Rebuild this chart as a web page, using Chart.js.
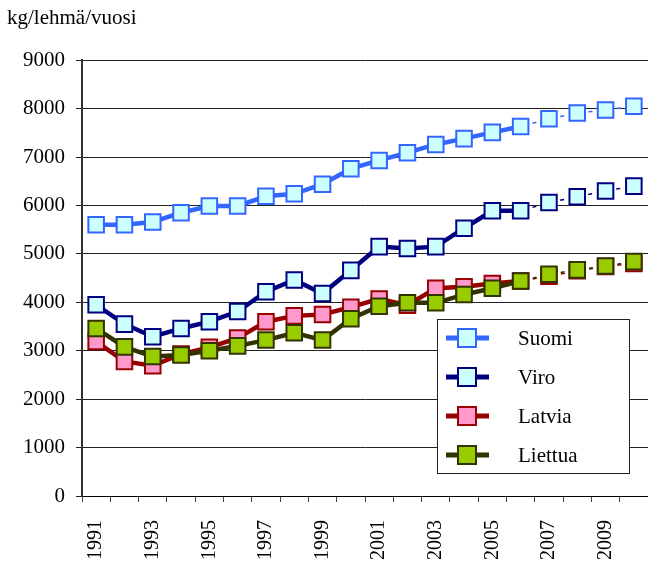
<!DOCTYPE html>
<html>
<head>
<meta charset="utf-8">
<script src="https://cdn.jsdelivr.net/npm/chart.js@4.4.0/dist/chart.umd.min.js"></script>
<style>
  body { margin: 0; background: #fff; }
  #myChart { display: block; }
</style>
</head>
<body>
<canvas id="myChart" width="648" height="561"></canvas>
<script>
const vuodet = ['1991', '1992', '1993', '1994', '1995', '1996', '1997', '1998', '1999', '2000',
                '2001', '2002', '2003', '2004', '2005', '2006', '2007', '2008', '2009', '2010'];

const suomi   = [5600, 5600, 5660, 5850, 5990, 5990, 6190, 6240, 6440, 6760, 6930, 7090, 7260, 7380, 7510, 7630, 7790, 7910, 7970, 8050];
const viro    = [3950, 3550, 3290, 3460, 3600, 3810, 4220, 4460, 4180, 4660, 5150, 5110, 5150, 5530, 5890, 5890, 6060, 6180, 6300, 6400];
const latvia  = [3190, 2780, 2690, 2930, 3070, 3260, 3600, 3720, 3750, 3900, 4070, 3940, 4290, 4320, 4390, 4440, 4540, 4650, 4740, 4800];
const liettua = [3460, 3080, 2880, 2910, 3000, 3100, 3220, 3370, 3220, 3660, 3920, 3990, 3990, 4160, 4290, 4440, 4580, 4670, 4750, 4840];

const yAsteikko = [0, 1000, 2000, 3000, 4000, 5000, 6000, 7000, 8000, 9000];

// ennusteet (katkoviiva) alkavat vuoden 2006 jälkeen
const ennusteAlku = vuodet.indexOf('2006');

const fontti = '"Liberation Serif", "Times New Roman", serif';

function sarja(nimi, data, viiva, tayte, jarjestys) {
  return {
    label: nimi,
    data: data,
    borderColor: viiva,
    backgroundColor: tayte,
    borderWidth: 4.5,
    pointStyle: 'rect',
    pointRadius: 11,
    pointHoverRadius: 11,
    pointBorderWidth: 2,
    pointBackgroundColor: tayte,
    pointBorderColor: viiva,
    order: jarjestys,
    segment: {
      borderWidth: ctx => ctx.p0DataIndex >= ennusteAlku ? 1.5 : undefined,
      borderDash: ctx => ctx.p0DataIndex >= ennusteAlku ? [4, 24.6] : undefined,
      borderDashOffset: ctx => ctx.p0DataIndex >= ennusteAlku ? 16.3 : undefined
    }
  };
}

// selite piirretään kuvaajan sisään, oikeaan alakulmaan
const selite = {
  id: 'selite',
  afterDraw(chart) {
    const ctx = chart.ctx;
    const ala = chart.chartArea;
    const x = ala.right - 211;
    const y = ala.bottom - 177;
    const w = 192, h = 154;
    ctx.save();
    ctx.fillStyle = '#fff';
    ctx.fillRect(x, y, w, h);
    ctx.strokeStyle = '#222';
    ctx.lineWidth = 1;
    ctx.strokeRect(x + 0.5, y + 0.5, w, h);
    ctx.font = '21px ' + fontti;
    ctx.textBaseline = 'middle';
    chart.data.datasets.forEach((ds, i) => {
      const cy = y + 19 + i * 39;
      ctx.strokeStyle = ds.borderColor;
      ctx.lineWidth = 5;
      ctx.beginPath();
      ctx.moveTo(x + 9, cy);
      ctx.lineTo(x + 52, cy);
      ctx.stroke();
      ctx.fillStyle = ds.pointBackgroundColor;
      ctx.fillRect(x + 21, cy - 9, 18, 18);
      ctx.lineWidth = 2;
      ctx.strokeRect(x + 21, cy - 9, 18, 18);
      ctx.fillStyle = '#000';
      ctx.fillText(ds.label, x + 81, cy + 1);
    });
    ctx.restore();
  }
};

const chart = new Chart(document.getElementById('myChart'), {
  type: 'line',
  data: {
    labels: vuodet,
    datasets: [
      sarja('Suomi', suomi, '#3366FF', '#CCFFFF', 4),
      sarja('Viro', viro, '#000080', '#CCFFFF', 3),
      sarja('Latvia', latvia, '#990000', '#FF99CC', 2),
      sarja('Liettua', liettua, '#333300', '#99CC00', 1)
    ]
  },
  options: {
    responsive: false,
    animation: false,
    layout: { autoPadding: false, padding: { left: 7, right: 0, top: 0, bottom: 2 } },
    plugins: {
      legend: { display: false },
      tooltip: { enabled: false },
      title: {
        display: true,
        text: 'kg/lehmä/vuosi',
        align: 'start',
        color: '#000',
        font: { family: fontti, size: 21, weight: 'normal' },
        padding: { top: 6, bottom: 29 }
      }
    },
    scales: {
      x: {
        offset: true,
        afterFit: scale => {
          scale.height = 63;
          scale.paddingLeft = 0;
          scale.paddingRight = 0;
        },
        grid: { drawOnChartArea: false, offset: true, tickLength: 6, color: '#444' },
        border: { color: '#000', width: 1 },
        ticks: {
          autoSkip: false,
          maxRotation: 90,
          minRotation: 90,
          padding: 18,
          color: '#000',
          font: { family: fontti, size: 20 },
          callback: (v, i) => i % 2 === 0 ? vuodet[i] : ''
        }
      },
      y: {
        min: yAsteikko[0],
        max: yAsteikko[yAsteikko.length - 1],
        afterBuildTicks: scale => { scale.ticks = yAsteikko.map(v => ({ value: v })); },
        afterFit: scale => { scale.width = 75; },
        grid: { color: '#222', tickLength: 6 },
        border: { color: '#333', width: 2 },
        ticks: {
          padding: 11,
          color: '#000',
          font: { family: fontti, size: 21 },
          callback: v => String(v)
        }
      }
    }
  },
  plugins: [selite]
});
</script>
</body>
</html>
